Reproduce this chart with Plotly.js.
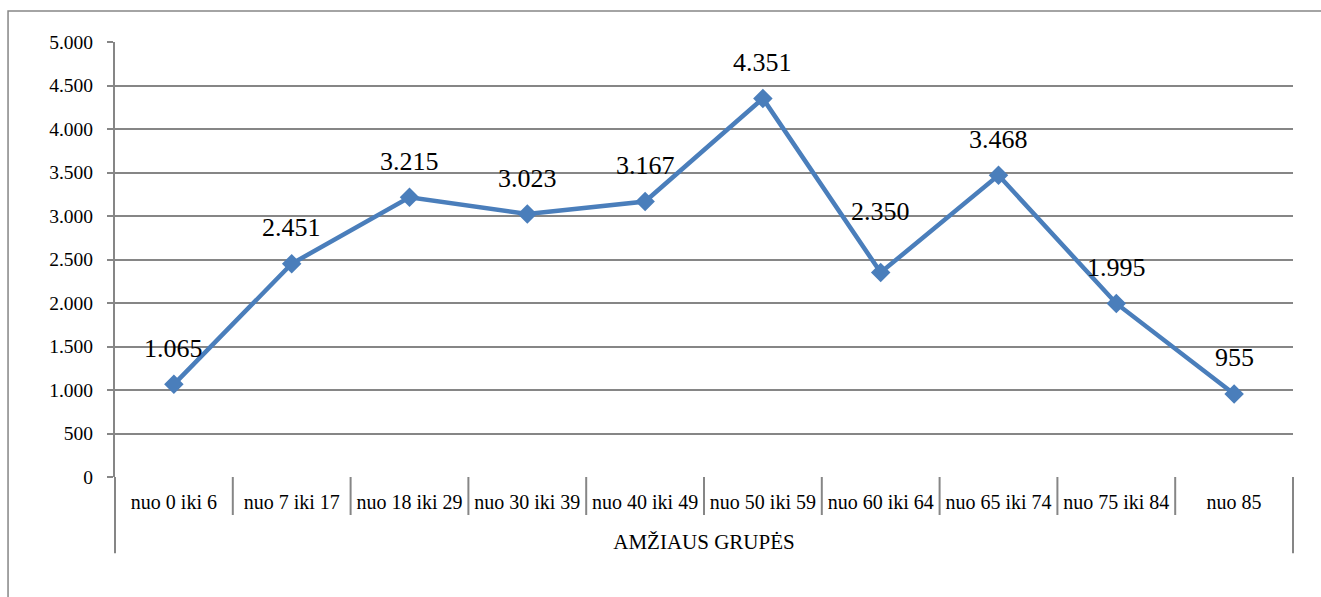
<!DOCTYPE html>
<html>
<head>
<meta charset="utf-8">
<script src="https://cdn.plot.ly/plotly-3.0.1.min.js"></script>
<style>html,body{margin:0;padding:0;background:#fff;font-family:"Liberation Serif";}#chart{width:1321px;height:597px;}</style>
</head>
<body>
<div id="chart"></div>
<script>
const categories = ["nuo 0 iki 6","nuo 7 iki 17","nuo 18 iki 29","nuo 30 iki 39","nuo 40 iki 49","nuo 50 iki 59","nuo 60 iki 64","nuo 65 iki 74","nuo 75 iki 84","nuo 85"];
const values = [1065, 2451, 3215, 3023, 3167, 4351, 2350, 3468, 1995, 955];
const yTickVals = [0,500,1000,1500,2000,2500,3000,3500,4000,4500,5000];
const axisTitle = "AMŽIAUS GRUPĖS";

const font = "Liberation Serif";
const gray = "#868686";
const blue = "#4A7EBB";

const trace = {
  type: "scatter",
  mode: "lines+markers",
  x: categories,
  y: values,
  line: {color: blue, width: 4.5},
  marker: {symbol: "diamond", size: 15, color: blue},
  hoverinfo: "skip",
  cliponaxis: false
};

const fmt = v => v.toString().replace(/\B(?=(\d{3})+(?!\d))/g, ".");
const annotations = categories.map((c, i) => ({
  x: c, y: values[i], xref: "x", yref: "y",
  text: fmt(values[i]), showarrow: false,
  yshift: (c === "nuo 60 iki 64") ? 61 : 36,
  font: {family: font, size: 26, color: "#000"}
}));

const shapes = [];
for (let i = 0; i < categories.length - 1; i++) {
  shapes.push({type: "line", xref: "x", yref: "paper", x0: i + 0.5, x1: i + 0.5, y0: 0, y1: -0.0874,
    line: {color: gray, width: 2}});
}
shapes.push({type: "line", xref: "paper", yref: "paper", x0: 0, x1: 0, y0: 0, y1: -0.175, line: {color: gray, width: 2}});
shapes.push({type: "line", xref: "paper", yref: "paper", x0: 1, x1: 1, y0: 0, y1: -0.175, line: {color: gray, width: 2}});
shapes.push({type: "rect", xref: "paper", yref: "paper", x0: -0.0908, x1: 1.03, y0: -0.29, y1: 1.0713,
  line: {color: gray, width: 1.5}, layer: "below"});

const layout = {
  width: 1321, height: 597,
  margin: {l: 115, r: 28, t: 42, b: 120},
  paper_bgcolor: "#fff", plot_bgcolor: "#fff",
  separators: ",.",
  showlegend: false,
  font: {family: font, color: "#000"},
  xaxis: {
    type: "category",
    range: [-0.5, categories.length - 0.5],
    showgrid: false, zeroline: false,
    showline: false, ticks: "",
    ticklabelstandoff: 11,
    tickfont: {family: font, size: 20, color: "#000"},
    title: {text: axisTitle, font: {family: font, size: 21, color: "#000"}, standoff: 22},
    fixedrange: true
  },
  yaxis: {
    range: [0, 5000],
    tickvals: yTickVals,
    tickformat: ",d",
    showgrid: true, gridcolor: gray, gridwidth: 2,
    zeroline: false,
    showline: true, linecolor: gray, linewidth: 2,
    ticks: "outside", ticklen: 6, tickcolor: gray, tickwidth: 2,
    ticklabelstandoff: 10,
    tickfont: {family: font, size: 19.5, color: "#000"},
    fixedrange: true
  },
  annotations: annotations,
  shapes: shapes
};

Plotly.newPlot("chart", [trace], layout, {displayModeBar: false, staticPlot: true});
</script>
</body>
</html>
